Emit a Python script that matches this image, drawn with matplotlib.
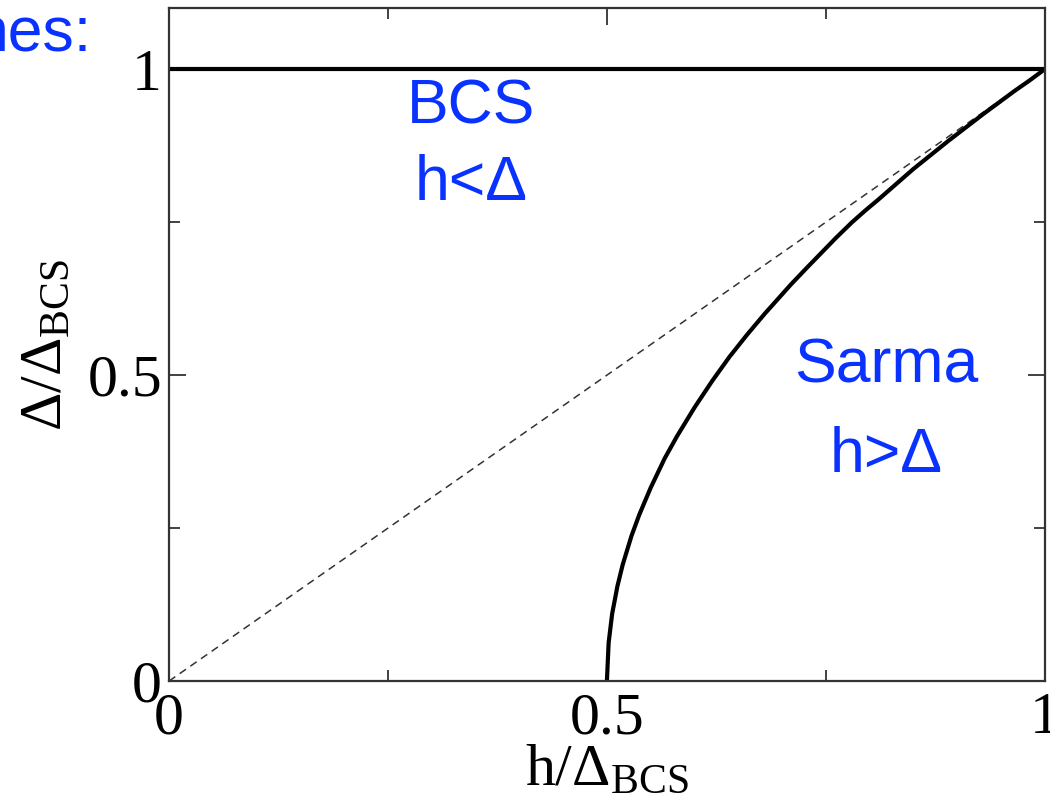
import matplotlib
matplotlib.use("Agg")
import matplotlib.pyplot as plt
from matplotlib.ticker import MultipleLocator

plt.rcParams['font.family'] = 'Liberation Serif'
plt.rcParams['mathtext.fontset'] = 'custom'
plt.rcParams['mathtext.rm'] = 'Liberation Serif'
plt.rcParams['mathtext.it'] = 'Liberation Serif:italic'

# gap vs field: BCS branch and Sarma branch
h_bcs = [0.0, 1.0]
gap_bcs = [1.0, 1.0]

h_sarma = [0.5, 0.502, 0.506, 0.512, 0.518, 0.528, 0.537, 0.55, 0.566, 0.58,
           0.6, 0.62, 0.64, 0.66, 0.68, 0.71, 0.728, 0.745, 0.762, 0.78,
           0.795, 0.81, 0.83, 0.85, 0.87, 0.89, 0.91, 0.93, 0.948, 0.965,
           0.983, 1.0]
gap_sarma = [0.0, 0.063, 0.11, 0.155, 0.19, 0.237, 0.272, 0.316, 0.364, 0.4,
             0.447, 0.49, 0.53, 0.566, 0.6, 0.648, 0.675, 0.7, 0.725, 0.75,
             0.769, 0.787, 0.812, 0.837, 0.86, 0.883, 0.905, 0.927, 0.946, 0.964,
             0.982, 1.0]

# h = Delta line
h_diag = [0.0, 1.0]
gap_diag = [0.0, 1.0]

blue = '#0a32ff'

fig = plt.figure(figsize=(10.5, 8.06), dpi=100)
ax = fig.add_axes([0.161, 0.155, 0.834, 0.835])

ax.plot(h_diag, gap_diag, color='#333333', lw=1.1, dashes=(5, 3.5))
ax.plot(h_bcs, gap_bcs, color='black', lw=3)
ax.plot(h_sarma, gap_sarma, color='black', lw=3, solid_joinstyle='round')

ax.set_xlim(0, 1)
ax.set_ylim(0, 1.1)
ax.xaxis.set_minor_locator(MultipleLocator(0.25))
ax.yaxis.set_minor_locator(MultipleLocator(0.25))
ax.set_xticks([0, 0.5, 1])
ax.set_xticklabels(['0', '0.5', '1'])
ax.set_yticks([0, 0.5, 1])
ax.set_yticklabels(['0', '0.5', '1'])
ax.tick_params(which='both', direction='in', top=True, right=True,
               labelsize=43, width=1.3, color='#333333')
ax.tick_params(which='major', length=12)
ax.tick_params(which='minor', length=8)
ax.tick_params(axis='x', pad=8)
ax.tick_params(axis='y', pad=5)
for s in ax.spines.values():
    s.set_linewidth(1.6)
    s.set_color('#333333')

ax.set_xlabel(r'$\mathrm{h}/\Delta_{\mathrm{BCS}}$', fontsize=43, labelpad=-2)
ax.set_ylabel(r'$\Delta/\Delta_{\mathrm{BCS}}$', fontsize=43, labelpad=10)

tfont = dict(family='Liberation Sans', color=blue, fontsize=45, ha='center', va='center')
ax.text(0.345, 0.938, 'BCS', **tfont)
ax.text(0.345, 0.813, 'h<Δ', **tfont)
ax.text(0.819, 0.515, 'Sarma', **tfont)
ax.text(0.819, 0.368, 'h>Δ', **tfont)
fig.text(92 / 1050, 1 - 35 / 806, 'nes:', family='Liberation Sans', color=blue,
         fontsize=45, ha='right', va='center')

fig.savefig('out.png', dpi=100)
